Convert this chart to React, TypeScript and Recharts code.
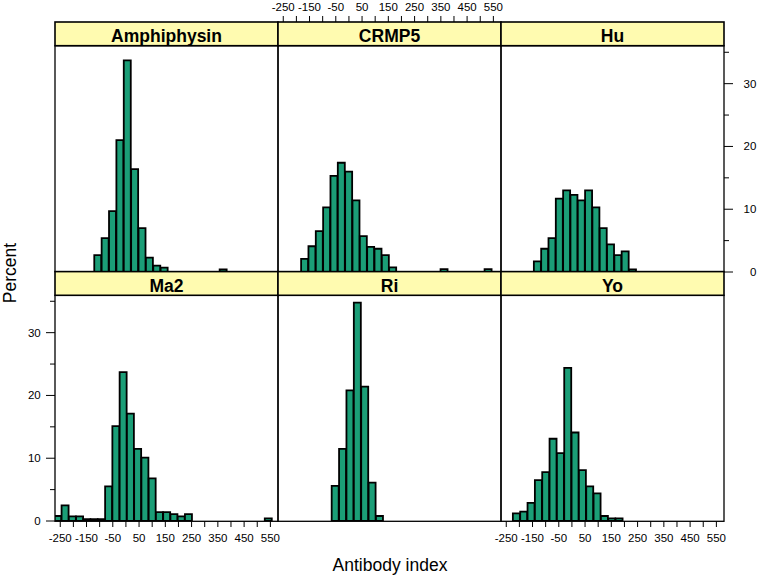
import React from 'react'
import { BarChart, Bar, XAxis, YAxis } from 'recharts'

// percent of patients per antibody-index bin.
// breaks = [first break, bin width] of each panel's histogram
const panelNames = ['Amphiphysin', 'CRMP5', 'Hu', 'Ma2', 'Ri', 'Yo']

const amphiphysinBreaks = [-120.5, 28.08]
const amphiphysinPct = [2.7, 5.4, 9.7, 21.0, 33.7, 16.4, 7.0, 2.3, 1.0, 0.7, 0, 0, 0, 0, 0, 0, 0, 0.4]

const crmp5Breaks = [-182, 27.94]
const crmp5Pct = [2.1, 4.1, 6.5, 10.3, 15.3, 17.4, 16.0, 11.4, 5.7, 4.0, 3.7, 2.7, 0.75, 0, 0, 0, 0, 0, 0, 0.45, 0, 0, 0, 0, 0, 0.45]

const huBreaks = [-144.9, 27.86]
const huPct = [1.7, 3.7, 5.4, 11.7, 13.0, 12.3, 11.4, 13.0, 10.3, 7.0, 4.4, 2.7, 3.3, 0.4]

const ma2Breaks = [-272.6, 27.63]
const ma2Pct = [0.8, 2.5, 0.75, 0.75, 0.3, 0.3, 0.3, 5.5, 15.1, 23.7, 17.1, 11.5, 10.1, 6.8, 1.4, 1.4, 1.1, 0.75, 1.1, 0, 0, 0, 0, 0, 0, 0, 0, 0, 0, 0.43]

const riBreaks = [-65.6, 28.1]
const riPct = [5.6, 11.5, 20.8, 34.8, 21.4, 6.1, 0.8]

const yoBreaks = [-224.8, 27.93]
const yoPct = [1.2, 1.5, 2.9, 6.5, 7.8, 13.1, 10.8, 24.4, 14.1, 8.1, 5.5, 4.4, 0.8, 0.43, 0.43]

const xTicks = [-250, -200, -150, -100, -50, 0, 50, 100, 150, 200, 250, 300, 350, 400, 450, 500, 550]
const xLabels = [-250, -150, -50, 50, 150, 250, 350, 450, 550]
const yTicks = [0, 5, 10, 15, 20, 25, 30, 35]
const yLabels = [0, 10, 20, 30]

const X_DOMAIN = [-270, 579]
const Y_DOMAIN = [0, 36]

const COL_X = [55, 278, 501]
const ROW_Y = [45.7, 295.3]
const PANEL_W = 223
const PANEL_H = 226
const STRIP_H = 23.7
const M = 30
const X_H = 30
const Y_W = 45

const FILL = '#1B9E77'
const STRIP_FILL = '#FFFBB0'
const FONT = "'Liberation Sans', Arial, Helvetica, sans-serif"
const TICK_FONT = 11.5

function toRows(breaks: number[], pct: number[]) {
  const [start, width] = breaks
  return pct
    .map((p, i) => ({ x: start + width * (i + 0.5), pct: p }))
    .filter((d) => d.pct > 0)
}

const panelRows = [
  toRows(amphiphysinBreaks, amphiphysinPct),
  toRows(crmp5Breaks, crmp5Pct),
  toRows(huBreaks, huPct),
  toRows(ma2Breaks, ma2Pct),
  toRows(riBreaks, riPct),
  toRows(yoBreaks, yoPct),
]

const fmtX = (v: number) => (xLabels.includes(v) ? String(v) : '')

const yTick = (side: 'left' | 'right') => (props: any) => {
  const { x, y, payload } = props
  const v = payload.value
  const major = yLabels.includes(v)
  const dir = side === 'left' ? -1 : 1
  const len = major ? 9 : 5
  return (
    <g>
      <line x1={x} x2={x + dir * len} y1={y} y2={y} stroke="#000" />
      {major && (
        <text x={side === 'left' ? x - 14.3 : x + 32.4} y={y} dy="0.35em" textAnchor="end" fontSize={TICK_FONT} fill="#000">
          {v}
        </text>
      )}
    </g>
  )
}

type PanelProps = { idx: number; left?: boolean; right?: boolean; bottom?: boolean }

function Panel({ idx, left = false, right = false, bottom = false }: PanelProps) {
  const col = idx % 3
  const row = Math.floor(idx / 3)
  const w = PANEL_W + 2 * M + (left ? Y_W : 0) + (right ? Y_W : 0)
  const h = PANEL_H + 2 * M + (bottom ? X_H : 0)
  const side = right ? 'right' : 'left'
  return (
    <div style={{ position: 'absolute', left: COL_X[col] - M - (left ? Y_W : 0), top: ROW_Y[row] - M }}>
      <BarChart width={w} height={h} data={panelRows[idx]} margin={{ top: M, right: M, bottom: M, left: M }} barCategoryGap={0} barGap={0}>
        <XAxis
          dataKey="x"
          type="number"
          domain={X_DOMAIN}
          allowDataOverflow
          ticks={xTicks}
          interval={0}
          hide={!bottom}
          height={X_H}
          tickSize={6}
          tickMargin={7}
          tickLine={{ stroke: '#000' }}
          axisLine={false}
          tick={{ fill: '#000', fontSize: TICK_FONT }}
          tickFormatter={fmtX}
        />
        <YAxis
          type="number"
          domain={Y_DOMAIN}
          allowDataOverflow
          ticks={yTicks}
          interval={0}
          hide={!left && !right}
          orientation={side}
          width={Y_W}
          tickSize={0}
          tickMargin={0}
          tickLine={false}
          axisLine={false}
          tick={yTick(side)}
        />
        <Bar dataKey="pct" fill={FILL} stroke="#000" strokeWidth={1.8} isAnimationActive={false} />
      </BarChart>
    </div>
  )
}

function TopAxis({ col }: { col: number }) {
  return (
    <div style={{ position: 'absolute', left: COL_X[col] - M, top: ROW_Y[0] - STRIP_H - X_H - M }}>
      <BarChart width={PANEL_W + 2 * M} height={STRIP_H + X_H + 2 * M} data={panelRows[col]} margin={{ top: M, right: M, bottom: M, left: M }}>
        <XAxis
          dataKey="x"
          type="number"
          orientation="top"
          domain={X_DOMAIN}
          allowDataOverflow
          ticks={xTicks}
          interval={0}
          height={X_H}
          tickSize={6}
          tickMargin={5}
          tickLine={{ stroke: '#000' }}
          axisLine={false}
          tick={{ fill: '#000', fontSize: TICK_FONT }}
          tickFormatter={fmtX}
        />
        <YAxis hide domain={Y_DOMAIN} />
      </BarChart>
    </div>
  )
}

export default function App() {
  return (
    <div style={{ position: 'absolute', left: 0, top: 0, width: 758, height: 575, background: '#fff', fontFamily: FONT, overflow: 'hidden' }}>
      <TopAxis col={1} />
      <Panel idx={0} />
      <Panel idx={1} />
      <Panel idx={2} right />
      <Panel idx={3} left bottom />
      <Panel idx={4} />
      <Panel idx={5} bottom />
      <svg width={758} height={575} style={{ position: 'absolute', left: 0, top: 0, pointerEvents: 'none' }}>
        {panelNames.map((name, i) => {
          const x = COL_X[i % 3]
          const y = ROW_Y[Math.floor(i / 3)]
          return (
            <g key={name}>
              <rect x={x} y={y} width={PANEL_W} height={PANEL_H} fill="none" stroke="#000" strokeWidth={1.3} />
              <rect x={x} y={y - STRIP_H} width={PANEL_W} height={STRIP_H} fill={STRIP_FILL} stroke="#000" strokeWidth={1.6} />
              <text x={x + PANEL_W / 2} y={y - STRIP_H + 20.3} textAnchor="middle" fontSize={17.5} fontWeight="bold" fill="#000">
                {name}
              </text>
            </g>
          )
        })}
        <text x={15.5} y={273} transform="rotate(-90 15.5 273)" textAnchor="middle" fontSize={17.5} fill="#000">
          Percent
        </text>
        <text x={390} y={571} textAnchor="middle" fontSize={17.5} fill="#000">
          Antibody index
        </text>
      </svg>
    </div>
  )
}
